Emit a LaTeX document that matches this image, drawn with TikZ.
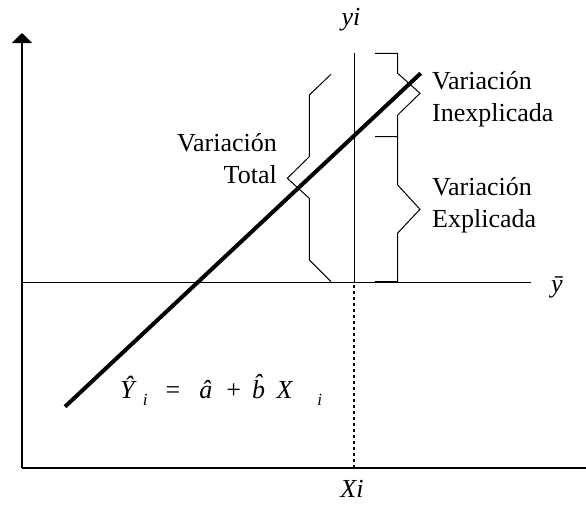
\documentclass[tikz,border=0pt]{standalone}
\usepackage{fontspec}
\setmainfont{Liberation Serif}
\usepackage{tikz}
\usetikzlibrary{calc, arrows.meta, positioning}

\begin{document}
\begin{tikzpicture}[x=1pt, y=-1pt, font=\fontsize{26}{32}\selectfont,
    axis/.style={line width=2pt},
    thin/.style={line width=1pt},
    brace/.style={line width=1pt, line join=miter},
    lbl/.style={inner sep=0pt, align=left}]
    \useasboundingbox (0,0) rectangle (586,504);
    % axes
    \coordinate (O)    at (22,468);
    \coordinate (ytop) at (22,33);
    \coordinate (xend) at (586,468);
    \draw[axis, -{Triangle[width=20pt, length=10pt]}] (O) -- (ytop);
    \draw[axis] (O) -- (xend);
    % mean line and observation
    \coordinate (m0) at (22,282);
    \coordinate (m1) at (531,282);
    \draw[thin] (m0) -- (m1);
    \node[inner sep=0pt, anchor=base west] (ybar) at (551,292) {\textit{\={y}}};
    \coordinate (xi0) at (354,468);
    \coordinate (xi1) at (354,282);
    \coordinate (yi0) at (354,53);
    \draw[thin] (xi1) -- (yi0);
    \draw[line width=1.5pt, dash pattern=on 3pt off 3pt] (xi0) -- (xi1);
    \node[inner sep=0pt, anchor=base] (yi) at (351,25) {\textit{yi}};
    \node[inner sep=0pt, anchor=base] (Xi) at (352,497) {\textit{Xi}};
    % regression line
    \coordinate (r0) at (65,406.7);
    \coordinate (r1) at (420.7,73.3);
    \draw[line width=4pt] (r0) -- (r1);
    \node[inner sep=0pt, anchor=base west] (eq) at (120,398)
      {\textit{\^{Y}}\hspace{6pt}\raisebox{-7pt}{\fontsize{17}{17}\selectfont\textit{i}}\hspace{18pt}=\hspace{19pt}\textit{\^{a}}\hspace{14pt}+\hspace{11pt}\textit{\^{b}}\hspace{2pt}\textit{X}\hspace{24pt}\raisebox{-7pt}{\fontsize{17}{17}\selectfont\textit{i}}};
    % braces
    \draw[brace] (331,74.3) -- (309.3,95) -- (309.3,156.7) -- (287.3,178.3)
      -- (309.3,198.3) -- (309.3,260) -- (331,281.7);
    \draw[brace] (375,53.3) -- (397.7,53.3) -- (397.7,73.3) -- (420,93.3)
      -- (397.7,115) -- (397.7,136.7);
    \draw[brace] (375,136.7) -- (397.7,136.7) -- (397.7,185) -- (420,209.3)
      -- (397.7,233) -- (397.7,281.7) -- (375,281.7);
    % labels
    \node[lbl, align=right, anchor=north east] (total) at (277,133) {Variación\\Total};
    \node[lbl, anchor=north west] (inexp) at (432,71) {Variación\\Inexplicada};
    \node[lbl, anchor=north west] (exp) at (432,177) {Variación\\Explicada};
  \end{tikzpicture}
\end{document}
